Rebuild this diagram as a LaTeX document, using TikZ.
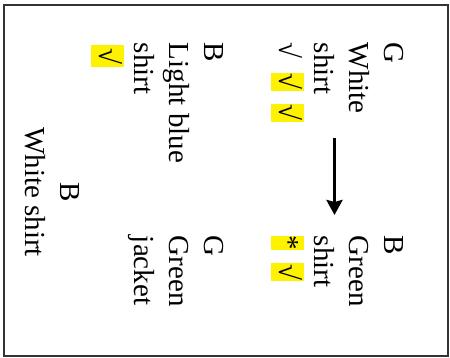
\documentclass[tikz,border=0pt]{standalone}
\usepackage{fontspec}
\setmainfont{Liberation Serif}
\usepackage{tikz}
\usetikzlibrary{arrows.meta}
\newcommand{\hilite}[2][18pt]{{\fboxsep=0pt\colorbox{yellow}{\rule[-8pt]{0pt}{33pt}\makebox[#1]{#2}}}}

\begin{document}
\begin{tikzpicture}[x=1pt, y=-1pt,
  txt/.style={rotate=-90, anchor=base west, inner sep=0pt, outer sep=0pt, font=\fontsize{29}{35}\selectfont},
  mid/.style={txt, anchor=base}]
\useasboundingbox (0,0) rectangle (450,358);
\draw[line width=2pt, black!80] (4,5) rectangle (448,356);
\node[txt] (a) at (384,43) {G};
\node[txt] (b) at (349,43) {White};
\node[txt] (c) at (314,43) {shirt};
\node[txt] (d) at (279,43) {√\hspace{14pt}\hilite{√}\hspace{13pt}\hilite{√}};
\node[txt] (e) at (384,236) {B};
\node[txt] (f) at (349,236) {Green};
\node[txt] (g) at (314,236) {shirt};
\node[txt] (h) at (279,236) {\hilite[14pt]{*}\hspace{13pt}\hilite{√}};
\node[txt] (i) at (204,43) {B};
\node[txt] (j) at (169,43) {Light blue};
\node[txt] (k) at (134,43) {shirt};
\node[txt] (l) at (99,45) {\hilite[22pt]{√}};
\node[txt] (m) at (204,236) {G};
\node[txt] (n) at (169,236) {Green};
\node[txt] (o) at (134,236) {jacket};
\node[mid] (p) at (60,192) {B};
\node[mid] (q) at (25,192) {White shirt};
\coordinate (s) at (334.5,138);
\coordinate (t) at (334.5,215);
\draw[line width=3.5pt, -{Stealth[length=15pt, width=16pt, inset=2pt]}] (s) -- (t);
\end{tikzpicture}
\end{document}
